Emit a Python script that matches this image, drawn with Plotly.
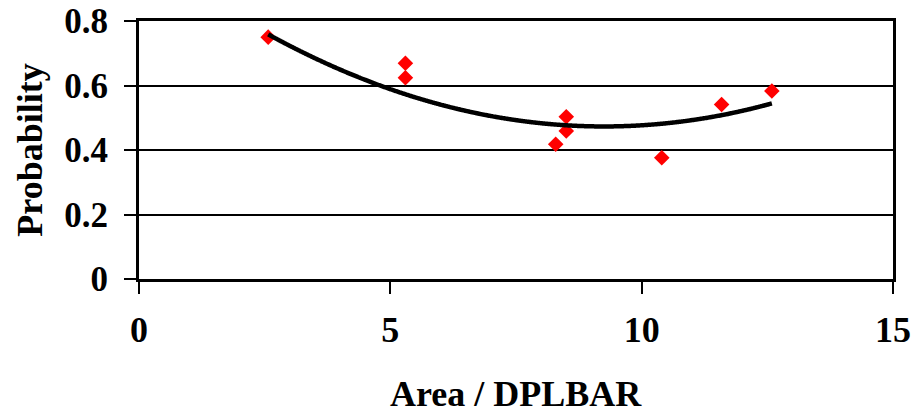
import numpy as np
import plotly.graph_objects as go

# Data
area_dplbar = [2.57, 5.30, 5.30, 8.29, 8.50, 8.50, 10.40, 11.59, 12.59]
probability = [0.750, 0.669, 0.624, 0.418, 0.503, 0.459, 0.376, 0.541, 0.583]

# 2nd-order polynomial trendline coefficients (a*x^2 + b*x + c)
trend_coef = [0.0064, -0.1184, 1.0206]

x_tick_vals = [0, 5, 10, 15]
y_tick_vals = [0, 0.2, 0.4, 0.6, 0.8]
y_tick_text = ["0", "0.2", "0.4", "0.6", "0.8"]

trend_x = np.linspace(min(area_dplbar), max(area_dplbar), 400)
trend_y = np.polyval(trend_coef, trend_x)

FONT = "Liberation Serif"

fig = go.Figure()
fig.add_trace(go.Scatter(
    x=area_dplbar, y=probability, mode="markers",
    marker=dict(symbol="diamond", size=12, color="#ff0000", line=dict(width=0)),
    showlegend=False, hoverinfo="x+y",
))
fig.add_trace(go.Scatter(
    x=trend_x, y=trend_y, mode="lines",
    line=dict(color="black", width=4.5, shape="spline"),
    showlegend=False, hoverinfo="skip",
))

fig.update_layout(
    width=918, height=419,
    margin=dict(l=138.5, r=24.7, t=20.7, b=139.7),
    paper_bgcolor="white", plot_bgcolor="white",
    font=dict(family=FONT, color="black"),
    xaxis=dict(
        range=[0, 15], tickvals=x_tick_vals, showgrid=False, zeroline=False,
        showline=True, linecolor="black", linewidth=3, mirror=True,
        ticks="outside", ticklen=12, tickwidth=2, tickcolor="black",
        tickfont=dict(family=FONT, size=36, color="black", weight="bold"),
        ticklabelstandoff=5, automargin=False,
    ),
    yaxis=dict(
        range=[0, 0.8], tickvals=y_tick_vals, ticktext=y_tick_text,
        showgrid=True, gridcolor="black", gridwidth=2, zeroline=False,
        showline=True, linecolor="black", linewidth=3, mirror=True,
        ticks="outside", ticklen=12, tickwidth=2, tickcolor="black",
        tickfont=dict(family=FONT, size=35, color="black", weight="bold"),
        ticklabelstandoff=9, automargin=False,
    ),
    annotations=[
        dict(text="<b>Area / DPLBAR</b>", xref="paper", yref="paper",
             x=0.5, y=-0.445, xanchor="center", yanchor="middle", showarrow=False,
             font=dict(family=FONT, size=36, color="black")),
        dict(text="<b>Probability</b>", xref="paper", yref="paper",
             x=-0.145, y=0.5, xanchor="center", yanchor="middle", showarrow=False,
             textangle=-90, font=dict(family=FONT, size=36, color="black")),
    ],
)

fig.write_html("out.html")
